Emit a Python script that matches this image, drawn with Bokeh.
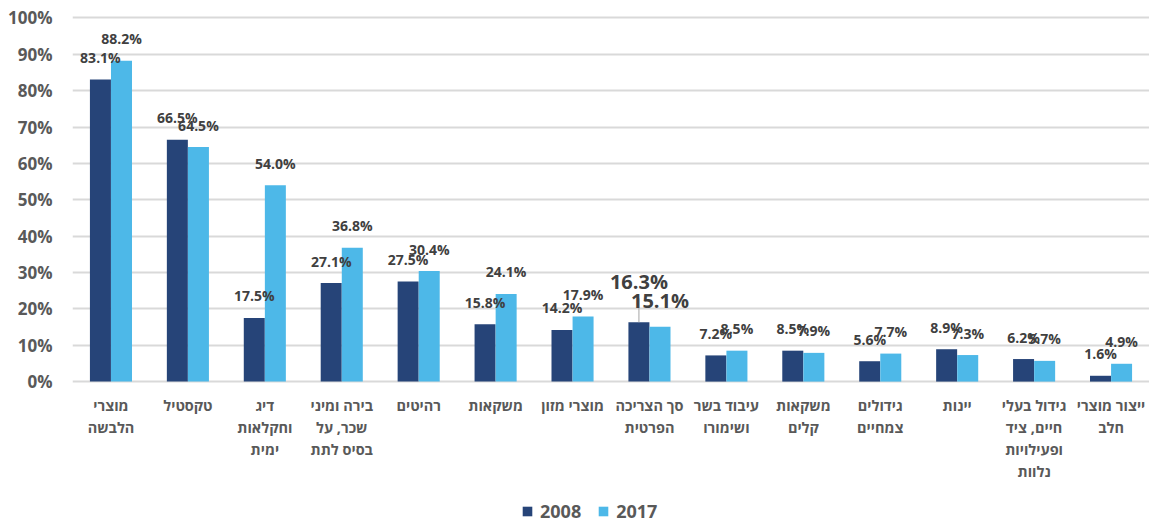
import numpy as np
from bokeh.plotting import figure
from bokeh.models import Range1d, FixedTicker, Legend, LegendItem
from bokeh.core.properties import value
from bokeh.embed import file_html
from bokeh.resources import INLINE

categories = [
    "מוצרי\nהלבשה",
    "טקסטיל",
    "דיג\nוחקלאות\nימית",
    "בירה ומיני\nשכר, על\nבסיס לתת",
    "רהיטים",
    "משקאות",
    "מוצרי מזון",
    "סך הצריכה\nהפרטית",
    "עיבוד בשר\nושימורו",
    "משקאות\nקלים",
    "גידולים\nצמחיים",
    "יינות",
    "גידול בעלי\nחיים, ציד\nופעילויות\nנלוות",
    "ייצור מוצרי\nחלב",
]
v2008 = [83.1, 66.5, 17.5, 27.1, 27.5, 15.8, 14.2, 16.3, 7.2, 8.5, 5.6, 8.9, 6.2, 1.6]
v2017 = [88.2, 64.5, 54.0, 36.8, 30.4, 24.1, 17.9, 15.1, 8.5, 7.9, 7.7, 7.3, 5.7, 4.9]
series = ["2008", "2017"]
highlight_index = 7
tick_values = list(range(0, 101, 10))
tick_labels = [f"{t}%" for t in tick_values]

DARK = "#264478"
LIGHT = "#4DB8E8"
FONT = "Open Sans"

y_lo, y_hi = -39.3, 104.8
frame_h = 524
px_per_unit = frame_h / (y_hi - y_lo)

p = figure(width=1149, height=524, x_range=Range1d(-0.5, 13.5), y_range=Range1d(y_lo, y_hi),
           output_backend="svg", toolbar_location=None,
           min_border_left=72, min_border_right=0, min_border_top=0, min_border_bottom=0)
p.outline_line_color = None
p.xaxis.visible = False
p.xgrid.visible = False

ya = p.yaxis[0]
ya.ticker = FixedTicker(ticks=tick_values)
ya.major_label_overrides = {t: l for t, l in zip(tick_values, tick_labels)}
ya.axis_line_color = None
ya.major_tick_line_color = None
ya.minor_tick_line_color = None
ya.major_tick_out = 0
ya.major_tick_in = 0
ya.major_label_standoff = 20
ya.major_label_text_font = FONT
ya.major_label_text_font_style = "bold"
ya.major_label_text_font_size = "17px"
ya.major_label_text_color = "#595959"

p.ygrid.ticker = FixedTicker(ticks=tick_values)
p.ygrid.grid_line_color = "#d9d9d9"
p.ygrid.grid_line_width = 2

n = len(categories)
xs = np.arange(n)
off = 0.137
bw = 0.273

r1 = p.vbar(x=xs - off, top=v2008, width=bw, fill_color=DARK, line_color=None)
r2 = p.vbar(x=xs + off, top=v2017, width=bw, fill_color=LIGHT, line_color=None)

# normal data labels
mask = xs != highlight_index
lab_x = np.concatenate([(xs - off)[mask], (xs + off)[mask]])
lab_y = np.concatenate([np.array(v2008)[mask], np.array(v2017)[mask]])
lab_t = [f"{v:.1f}%" for v in lab_y]
p.text(x=lab_x, y=lab_y, text=lab_t, y_offset=-22, text_align="center", text_baseline="middle",
       text_font=value(FONT), text_font_style="bold", text_font_size="14px", text_color="#404040")

# highlighted category labels
hx_d = highlight_index - off
hx_l = highlight_index + off
hv_d = v2008[highlight_index]
hv_l = v2017[highlight_index]
p.segment(x0=[hx_d], y0=[hv_d], x1=[hx_d], y1=[hv_d + 24 / px_per_unit], line_color="#a6a6a6", line_width=1)
p.text(x=[hx_d], y=[hv_d], text=[f"{hv_d:.1f}%"], y_offset=-41, text_align="center", text_baseline="middle",
       text_font=value(FONT), text_font_style="bold", text_font_size="20px", text_color="#404040")
p.text(x=[hx_l], y=[hv_l], text=[f"{hv_l:.1f}%"], y_offset=-26, text_align="center", text_baseline="middle",
       text_font=value(FONT), text_font_style="bold", text_font_size="20px", text_color="#404040")

# category labels
p.text(x=xs, y=np.zeros(n), text=categories, y_offset=14, text_align="center", text_baseline="top",
       text_line_height=1.16, text_font=value(FONT), text_font_style="bold", text_font_size="14.5px",
       text_color="#595959")

legend = Legend(items=[LegendItem(label=series[0], renderers=[r1]), LegendItem(label=series[1], renderers=[r2])],
                orientation="horizontal", location=(449, 1), padding=0, margin=0, spacing=16,
                glyph_width=12, glyph_height=12, label_standoff=7, label_height=16,
                label_text_font=FONT, label_text_font_style="bold", label_text_font_size="18px",
                label_text_color="#595959", border_line_color=None, background_fill_alpha=0)
p.add_layout(legend)

open("out.html", "w").write(file_html(p, INLINE))
